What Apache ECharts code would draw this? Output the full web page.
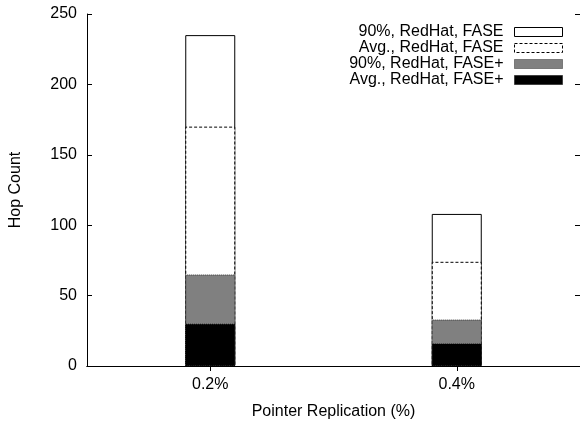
<!DOCTYPE html>
<html>
<head>
<meta charset="utf-8">
<script src="https://cdn.jsdelivr.net/npm/echarts@6/dist/echarts.min.js"></script>
<style>html,body{margin:0;padding:0;background:#fff;overflow:hidden;}#c{width:580px;height:425px;}</style>
</head>
<body>
<div id="c"></div>
<script>
var categories = ['0.2%', '0.4%'];
var p90Fase = [235, 108];
var avgFase = [170, 74];
var p90FasePlus = [65, 33];
var avgFasePlus = [30, 16];
var yTicks = [0, 50, 100, 150, 200, 250];

var FONT = '"Liberation Sans", Arial, Helvetica, sans-serif';
var FS = 16;

var chart = echarts.init(document.getElementById('c'), null, {renderer: 'canvas', width: 580, height: 425});
var names = ['90%, RedHat, FASE', 'Avg., RedHat, FASE', '90%, RedHat, FASE+', 'Avg., RedHat, FASE+'];
var styles = [
  {color: '#ffffff', borderColor: '#000', borderWidth: 1, borderType: 'solid'},
  {color: '#ffffff', borderColor: '#000', borderWidth: 1, borderType: [3, 2]},
  {color: '#808080', borderColor: '#333', borderWidth: 1, borderType: [1, 1]},
  {color: '#000000', borderColor: '#000', borderWidth: 1, borderType: [1, 1]}
];
var datas = [p90Fase, avgFase, p90FasePlus, avgFasePlus];
var series = names.map(function (n, i) {
  return {
    name: n, type: 'bar', data: datas[i], barWidth: 50, barGap: '-100%',
    itemStyle: styles[i], z: 2 + i, silent: true, animation: false
  };
});

chart.setOption({
  animation: false,
  textStyle: {fontFamily: FONT},
  grid: {left: 85, right: -1, top: 14, bottom: 54, containLabel: false},
  legend: {
    data: names.map(function (n, i) { return {name: n, itemStyle: styles[i]}; }),
    icon: 'rect',
    orient: 'vertical', right: 12, top: 19, align: 'right',
    itemWidth: 48, itemHeight: 9, itemGap: 0,
    textStyle: {fontFamily: FONT, fontSize: FS, color: '#000', lineHeight: 16, padding: [0, 6, 0, 0]},
    selectedMode: false
  },
  xAxis: [{
    type: 'category', data: categories, position: 'bottom',
    axisLine: {show: true, lineStyle: {color: '#000', width: 1}},
    axisTick: {show: true, inside: true, alignWithLabel: true, length: 5, lineStyle: {color: '#000'}},
    axisLabel: {fontFamily: FONT, fontSize: FS, color: '#000', margin: 11},
    name: 'Pointer Replication (%)', nameLocation: 'middle', nameGap: 38,
    nameTextStyle: {fontFamily: FONT, fontSize: FS, color: '#000'},
    splitLine: {show: false}
  }, {
    type: 'category', data: categories, position: 'top',
    axisLine: {show: true, lineStyle: {color: '#000', width: 1}},
    axisTick: {show: true, inside: true, alignWithLabel: true, length: 5, lineStyle: {color: '#000'}},
    axisLabel: {show: false}, splitLine: {show: false}
  }],
  yAxis: [{
    type: 'value', min: 0, max: 250, interval: 50,
    axisLine: {show: true, lineStyle: {color: '#000', width: 1}},
    axisTick: {show: true, inside: true, length: 5, lineStyle: {color: '#000'}},
    axisLabel: {fontFamily: FONT, fontSize: FS, color: '#000', margin: 10,
      formatter: function (v) { return yTicks.indexOf(v) >= 0 ? String(v) : ''; }},
    splitLine: {show: false},
    name: 'Hop Count', nameLocation: 'middle', nameGap: 63,
    nameTextStyle: {fontFamily: FONT, fontSize: FS, color: '#000'}
  }, {
    type: 'value', min: 0, max: 250, interval: 50, position: 'right',
    axisLine: {show: true, lineStyle: {color: '#000', width: 1}},
    axisTick: {show: true, inside: true, length: 5, lineStyle: {color: '#000'}},
    axisLabel: {show: false}, splitLine: {show: false}
  }],
  series: series
});
</script>
</body>
</html>
